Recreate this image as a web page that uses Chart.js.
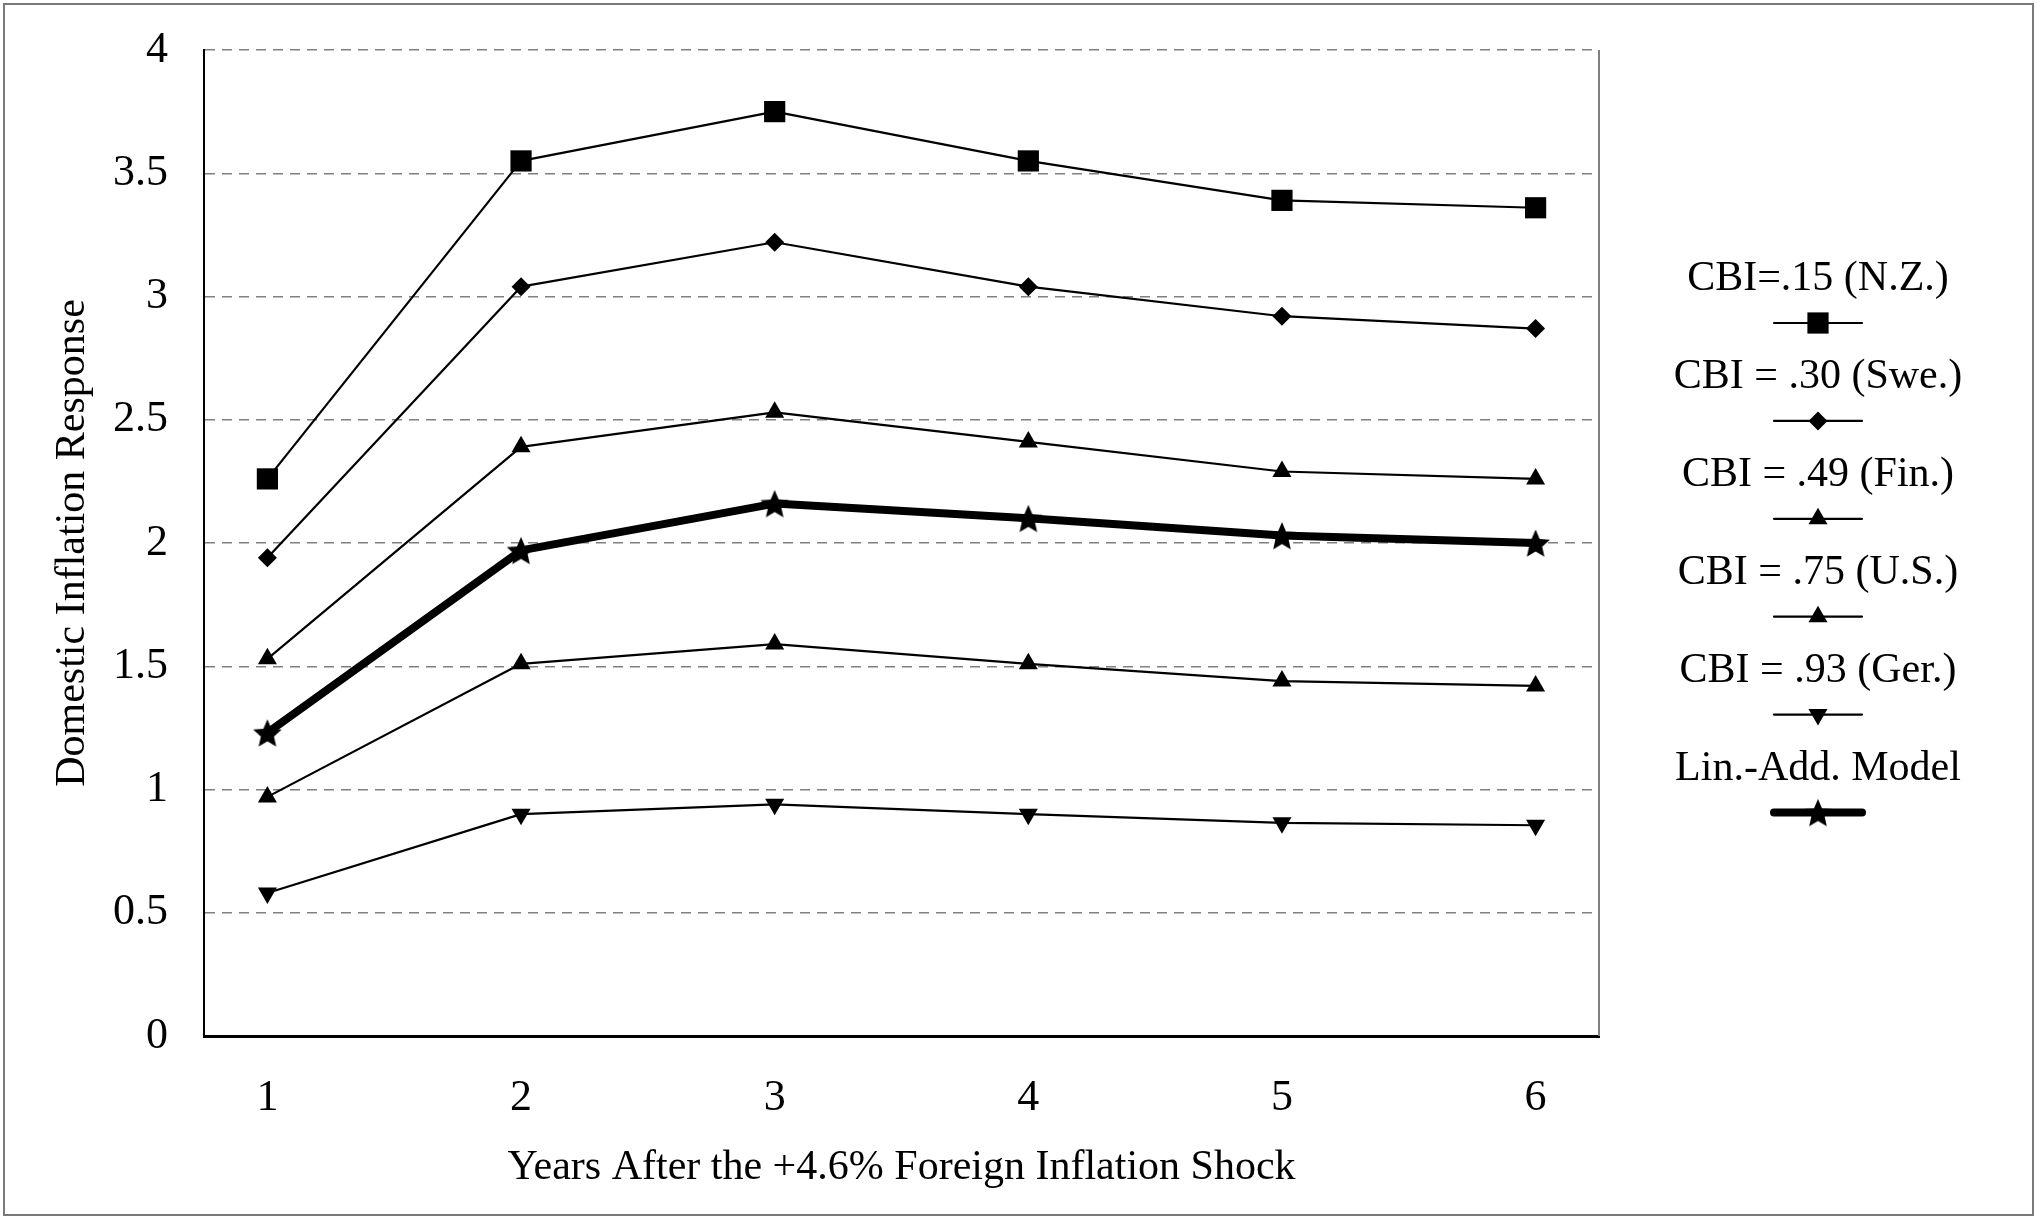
<!DOCTYPE html>
<html><head><meta charset="utf-8">
<script src="https://cdn.jsdelivr.net/npm/chart.js@4.4.1/dist/chart.umd.min.js"></script>
<style>html,body{margin:0;padding:0;background:#fff;}#wrap{width:2037px;height:1219px;position:relative;}</style>
</head><body><div id="wrap"><canvas id="c" width="2037" height="1219"></canvas></div>
<script>
const years = [1, 2, 3, 4, 5, 6];
const xTicks = [1, 2, 3, 4, 5, 6];
const yTicks = [0, 0.5, 1, 1.5, 2, 2.5, 3, 3.5, 4];
const seriesLabels = ['CBI=.15 (N.Z.)', 'CBI = .30 (Swe.)', 'CBI = .49 (Fin.)', 'CBI = .75 (U.S.)', 'CBI = .93 (Ger.)', 'Lin.-Add. Model'];
const nz = [2.26, 3.55, 3.75, 3.55, 3.39, 3.36];
const swe = [1.94, 3.04, 3.22, 3.04, 2.92, 2.87];
const fin = [1.53, 2.39, 2.53, 2.41, 2.29, 2.26];
const us = [0.97, 1.51, 1.59, 1.51, 1.44, 1.42];
const ger = [0.58, 0.90, 0.94, 0.90, 0.865, 0.855];
const linAdd = [1.23, 1.97, 2.16, 2.10, 2.03, 2.00];
const xTitle = 'Years After the +4.6% Foreign Inflation Shock';
const yTitle = 'Domestic Inflation Response';

const FONT = "'Liberation Serif', 'Times New Roman', serif";

function makeStar(size) {
  const c = document.createElement('canvas');
  c.width = size; c.height = size;
  const g = c.getContext('2d');
  const cx = size / 2, cy = size / 2 + size * 0.05, R = size / 2, r = R * 0.46;
  g.beginPath();
  for (let i = 0; i < 10; i++) {
    const a = -Math.PI / 2 + i * Math.PI / 5;
    const rr = i % 2 ? r : R;
    g.lineTo(cx + rr * Math.cos(a), cy + rr * Math.sin(a));
  }
  g.closePath();
  g.fillStyle = '#000';
  g.fill();
  return c;
}
const starImg = makeStar(30);

const series = [nz, swe, fin, us, ger, linAdd];
const styles = [
  {pointStyle: 'rect', pointRadius: 15, rotation: 0, borderWidth: 2.2},
  {pointStyle: 'rectRot', pointRadius: 9.5, rotation: 0, borderWidth: 2.2},
  {pointStyle: 'triangle', pointRadius: 11, rotation: 0, borderWidth: 2.2},
  {pointStyle: 'triangle', pointRadius: 11, rotation: 0, borderWidth: 2.2},
  {pointStyle: 'triangle', pointRadius: 11, rotation: 180, borderWidth: 2.2},
  {pointStyle: starImg, pointRadius: 15, rotation: 0, borderWidth: 8}
];

const datasets = series.map((vals, i) => ({
  label: seriesLabels[i],
  data: years.map((x, j) => ({x: x, y: vals[j]})),
  borderColor: '#000',
  backgroundColor: '#000',
  borderWidth: styles[i].borderWidth,
  pointStyle: styles[i].pointStyle,
  pointRadius: styles[i].pointRadius,
  pointRotation: styles[i].rotation,
  pointBorderWidth: 0,
  pointBackgroundColor: '#000',
  tension: 0,
  borderCapStyle: 'round',
  borderJoinStyle: 'round'
}));

const decor = {
  id: 'decor',
  afterDraw(chart) {
    const ctx = chart.ctx;
    const a = chart.chartArea;
    ctx.save();
    ctx.strokeStyle = '#808080';
    ctx.lineWidth = 2;
    ctx.beginPath();
    ctx.moveTo(a.right, a.top);
    ctx.lineTo(a.right, a.bottom);
    ctx.stroke();
    ctx.strokeStyle = '#7a7a7a';
    ctx.lineWidth = 2;
    ctx.strokeRect(4, 4, chart.width - 8, chart.height - 8);
    const cx = 1818, y0 = 279, pitch = 97.9, gap = 44;
    ctx.font = '42px ' + FONT;
    ctx.textAlign = 'center';
    ctx.textBaseline = 'middle';
    chart.data.datasets.forEach((ds, i) => {
      const ty = y0 + i * pitch;
      ctx.fillStyle = '#000';
      ctx.fillText(ds.label, cx, ty);
      const ly = ty + gap;
      ctx.strokeStyle = '#000';
      ctx.lineWidth = ds.borderWidth;
      ctx.lineCap = 'round';
      ctx.beginPath();
      ctx.moveTo(1774, ly);
      ctx.lineTo(1862, ly);
      ctx.stroke();
      ctx.fillStyle = '#000';
      Chart.helpers.drawPoint(ctx, {pointStyle: ds.pointStyle, rotation: ds.pointRotation, radius: ds.pointRadius, borderWidth: 0}, cx, ly);
    });
    ctx.restore();
  }
};

new Chart(document.getElementById('c'), {
  type: 'line',
  data: {datasets: datasets},
  options: {
    responsive: false,
    animation: false,
    devicePixelRatio: 1,
    layout: {padding: {left: 0, top: 50, right: 438, bottom: 0}},
    plugins: {legend: {display: false}, tooltip: {enabled: false}},
    scales: {
      x: {
        type: 'linear',
        min: 0.75,
        max: 6.25,
        afterBuildTicks(scale) { scale.ticks = xTicks.map(v => ({value: v})); },
        afterFit(scale) { scale.height = 183; },
        grid: {display: false, drawTicks: false},
        border: {display: true, color: '#000', width: 3},
        ticks: {color: '#000', padding: 36, font: {family: FONT, size: 44}, callback: v => String(v)},
        title: {display: true, text: xTitle, color: '#000', font: {family: FONT, size: 42}, padding: {top: 0, bottom: 26}}
      },
      y: {
        min: 0,
        max: 4,
        afterBuildTicks(scale) { scale.ticks = yTicks.map(v => ({value: v})); },
        afterFit(scale) { scale.width = 204; },
        grid: {color: '#808080', lineWidth: 1.5, drawTicks: true, tickLength: 34, tickColor: 'rgba(0,0,0,0)'},
        border: {display: true, color: '#000', width: 2, dash: [10, 7]},
        ticks: {color: '#000', padding: 2, font: {family: FONT, size: 44}, callback: v => String(v)},
        title: {display: true, text: yTitle, color: '#000', font: {family: FONT, size: 42}, padding: {top: 48, bottom: 0}}
      }
    }
  },
  plugins: [decor]
});
</script>
</body></html>
